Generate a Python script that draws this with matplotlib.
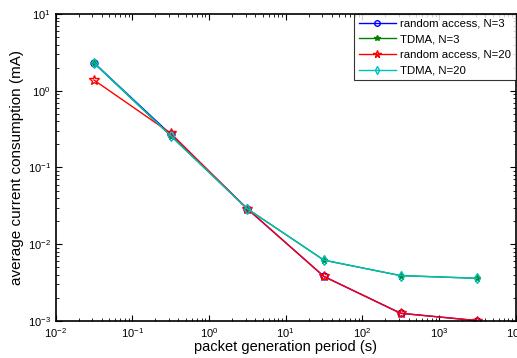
import numpy as np
import matplotlib
matplotlib.use("Agg")
import matplotlib.pyplot as plt
from matplotlib.ticker import LogLocator, NullFormatter

plt.rcParams['font.family'] = ['Liberation Sans', 'DejaVu Sans']
plt.rcParams['mathtext.fontset'] = 'custom'
plt.rcParams['mathtext.rm'] = 'Liberation Sans'
plt.rcParams['mathtext.it'] = 'Liberation Sans'

# packet generation period (s)
period = [0.0316, 0.316, 3.16, 31.6, 316, 3162]

ra_n3 = [2.32, 0.27, 0.029, 0.0038, 0.00126, 0.00101]
tdma_n3 = [2.30, 0.26, 0.029, 0.0062, 0.0039, 0.0036]
ra_n20 = [1.38, 0.28, 0.029, 0.0038, 0.00126, 0.00101]
tdma_n20 = [2.32, 0.26, 0.029, 0.0062, 0.0039, 0.0036]

labels = ["random access, N=3", "TDMA, N=3", "random access, N=20", "TDMA, N=20"]

fig = plt.figure(figsize=(5.17, 3.58), dpi=100)
ax = fig.add_axes([0.1075, 0.1034, 0.8900, 0.8575])

ax.plot(period, ra_n3, color=(0, 0, 1), lw=1.0, marker='o', ms=5,
        mfc='none', mec=(0, 0, 1), mew=1.0, label=labels[0])
ax.plot(period, tdma_n3, color=(0, 0.5, 0), lw=1.0, marker='*', ms=5,
        mfc=(0, 0.5, 0), mec=(0, 0.5, 0), label=labels[1])
ax.plot(period, ra_n20, color=(1, 0, 0), lw=1.0, marker='*', ms=7,
        mfc='none', mec=(1, 0, 0), mew=1.0, label=labels[2])
ax.plot(period, tdma_n20, color=(0, 0.75, 0.75), lw=1.0, marker='d', ms=5,
        mfc='none', mec=(0, 0.75, 0.75), mew=1.0, label=labels[3])

ax.set_xscale('log')
ax.set_yscale('log')
ax.set_xlim(1e-2, 1e4)
ax.set_ylim(1e-3, 1e1)

ax.xaxis.set_major_locator(LogLocator(base=10, numticks=10))
ax.yaxis.set_major_locator(LogLocator(base=10, numticks=10))
ax.xaxis.set_minor_locator(LogLocator(base=10, subs=np.arange(2, 10), numticks=10))
ax.yaxis.set_minor_locator(LogLocator(base=10, subs=np.arange(2, 10), numticks=10))
ax.xaxis.set_minor_formatter(NullFormatter())
ax.yaxis.set_minor_formatter(NullFormatter())

ax.tick_params(which='both', direction='in', top=True, right=True, labelsize=8)
ax.tick_params(which='major', length=4, width=0.8)
ax.tick_params(which='minor', length=2, width=0.6)
for s in ax.spines.values():
    s.set_linewidth(1.2)

ax.set_xlabel("packet generation period (s)", fontsize=10.5, labelpad=0)
ax.set_ylabel("average current consumption (mA)", fontsize=11, labelpad=3)

leg = ax.legend(loc='upper right', fontsize=8.2, frameon=True, fancybox=False,
                edgecolor='black', borderaxespad=0, handlelength=3.3,
                labelspacing=0.5, borderpad=0.4, handletextpad=0.35,
                markerscale=0.8)
leg.get_frame().set_linewidth(0.8)

fig.savefig("out.png", dpi=100)
